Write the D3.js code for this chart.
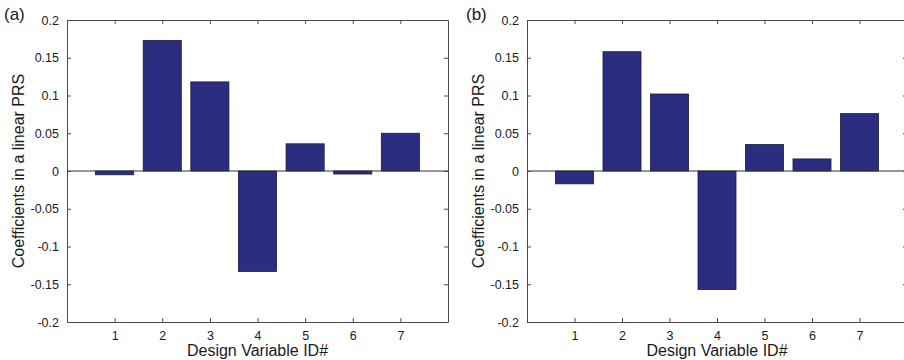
<!DOCTYPE html>
<html>
<head>
<meta charset="utf-8">
<script src="https://cdn.jsdelivr.net/npm/d3@7"></script>
<style>
  html, body { margin: 0; padding: 0; background: #fff; }
  svg { display: block; }
  text { font-family: "Liberation Sans", Arial, Helvetica, sans-serif; fill: #1a1a1a; }
</style>
</head>
<body>
<svg id="chart" width="904" height="360"></svg>
<script>
const categories = [1, 2, 3, 4, 5, 6, 7];
const valuesA = [-0.005, 0.173, 0.118, -0.133, 0.036, -0.004, 0.050];
const valuesB = [-0.017, 0.158, 0.102, -0.157, 0.035, 0.016, 0.076];
const yTicks = [-0.2, -0.15, -0.1, -0.05, 0, 0.05, 0.1, 0.15, 0.2];
const yTickLabels = ["-0.2", "-0.15", "-0.1", "-0.05", "0", "0.05", "0.1", "0.15", "0.2"];
const panelLabels = ["(a)", "(b)"];
const xTitle = "Design Variable ID#";
const yTitle = "Coefficients in a linear PRS";

const svg = d3.select("#chart");
const barColor = "#2b2e80";
const axisColor = "#4a4a4a";

const panels = [
  { label: panelLabels[0], values: valuesA, left: 67, right: 448, labelX: 4, yTitleX: 24 },
  { label: panelLabels[1], values: valuesB, left: 527, right: 907, labelX: 466, yTitleX: 484 }
];
const plotTop = 20, plotBottom = 322;

panels.forEach(p => {
  const g = svg.append("g");
  const x = d3.scaleLinear().domain([0, 8]).range([p.left, p.right]);
  const y = d3.scaleLinear().domain([-0.2, 0.2]).range([plotBottom, plotTop]);
  const step = x(1) - x(0);
  const bw = step * 0.8;

  g.selectAll("rect.bar").data(p.values).enter().append("rect")
    .attr("class", "bar")
    .attr("x", (d, i) => x(categories[i]) - bw / 2)
    .attr("width", bw)
    .attr("y", d => y(Math.max(0, d)))
    .attr("height", d => Math.abs(y(d) - y(0)))
    .attr("fill", barColor)
    .attr("stroke", "#1a1a3a")
    .attr("stroke-width", 0.8);

  g.append("line")
    .attr("x1", p.left).attr("x2", p.right)
    .attr("y1", y(0)).attr("y2", y(0))
    .attr("stroke", "#333").attr("stroke-width", 1);

  const fmt = v => yTickLabels[yTicks.indexOf(v)];

  const yAxisL = d3.axisLeft(y).tickValues(yTicks).tickFormat(fmt).tickSizeInner(-4).tickSizeOuter(0).tickPadding(8);
  const gl = g.append("g").attr("transform", `translate(${p.left},0)`).call(yAxisL);
  const yAxisR = d3.axisRight(y).tickValues(yTicks).tickFormat("").tickSizeInner(-4).tickSizeOuter(0);
  const gr = g.append("g").attr("transform", `translate(${p.right},0)`).call(yAxisR);
  const xAxisB = d3.axisBottom(x).tickValues(categories).tickFormat(d3.format("d")).tickSizeInner(-4).tickSizeOuter(0).tickPadding(9);
  const gb = g.append("g").attr("transform", `translate(0,${plotBottom})`).call(xAxisB);
  const xAxisT = d3.axisTop(x).tickValues(categories).tickFormat("").tickSizeInner(-4).tickSizeOuter(0);
  const gt = g.append("g").attr("transform", `translate(0,${plotTop})`).call(xAxisT);

  [gl, gr, gb, gt].forEach(a => {
    a.selectAll("path.domain").attr("stroke", axisColor).attr("stroke-width", 1);
    a.selectAll(".tick line").attr("stroke", axisColor);
    a.selectAll(".tick text").attr("font-size", 12.5).attr("fill", "#1a1a1a")
      .attr("font-family", "'Liberation Sans', Arial, sans-serif");
  });

  g.append("text")
    .attr("x", (p.left + p.right) / 2)
    .attr("y", 356)
    .attr("text-anchor", "middle")
    .attr("font-size", 16)
    .text(xTitle);

  g.append("text")
    .attr("transform", `translate(${p.yTitleX},${(plotTop + plotBottom) / 2}) rotate(-90)`)
    .attr("text-anchor", "middle")
    .attr("font-size", 16)
    .text(yTitle);

  g.append("text")
    .attr("x", p.labelX)
    .attr("y", 20)
    .attr("font-size", 17)
    .text(p.label);
});
</script>
</body>
</html>
